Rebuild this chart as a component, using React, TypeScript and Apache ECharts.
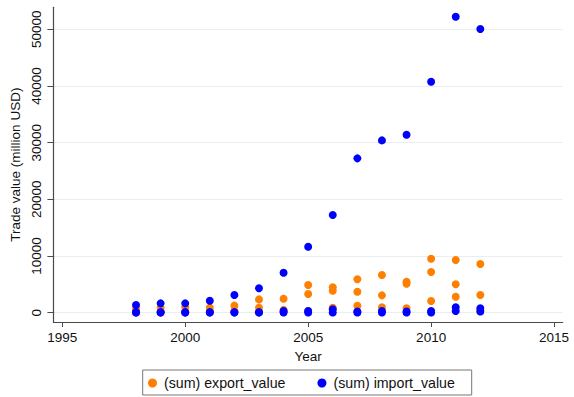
import React, { useEffect, useRef } from "react";
import * as echarts from "echarts";

const years = [1998, 1999, 2000, 2001, 2002, 2003, 2004, 2005, 2006, 2007, 2008, 2009, 2010, 2011, 2012];
const exportA = [800, 900, 1000, 900, 1250, 2350, 2450, 4900, 4480, 5890, 6650, 5470, 9530, 9300, 8590];
const exportB = [300, 200, 200, 300, 300, 900, 500, 3300, 3880, 3700, 3060, 5120, 7180, 5010, 3120];
const exportC = [50, 50, 50, 100, 100, 100, 150, 300, 880, 1240, 950, 770, 2060, 2820, 400];
const importA = [1360, 1650, 1650, 2120, 3120, 4300, 7060, 11640, 17230, 27230, 30400, 31400, 40750, 52200, 50050];
const importB = [100, 100, 100, 100, 100, 100, 300, 300, 600, 200, 300, 200, 300, 950, 770];
const importC = [20, 20, 20, 20, 20, 20, 50, 50, 50, 50, 50, 50, 50, 300, 200];
const xTicks = [1995, 2000, 2005, 2010, 2015];
const yTicks = [0, 10000, 20000, 30000, 40000, 50000];
const seriesNames = ["(sum) export_value", "(sum) import_value"];

const FONT = "Liberation Sans, Arial, Helvetica, sans-serif";

function pts(...groups: number[][]) {
  const out: number[][] = [];
  groups.forEach((g) => g.forEach((v, i) => out.push([years[i], v])));
  return out;
}

export default function App() {
  const ref = useRef<HTMLDivElement>(null);
  useEffect(() => {
    if (!ref.current) return;
    const chart = echarts.init(ref.current, null, { renderer: "svg" });
    const axisColor = "#4a4a4a";
    const textStyle = { color: "#111", fontFamily: FONT, fontSize: 13.5 };
    chart.setOption({
      animation: false,
      backgroundColor: "#fff",
      grid: { left: 51, right: 11.3, top: 7.3, bottom: 75, containLabel: false },
      xAxis: {
        type: "value",
        min: 1994.64,
        max: 2015.35,
        name: "Year",
        nameLocation: "middle",
        nameGap: 24.5,
        nameTextStyle: textStyle,
        axisLine: { onZero: false, lineStyle: { color: axisColor, width: 1.2 } },
        axisTick: { show: true, length: 5, customValues: xTicks, lineStyle: { color: axisColor } },
        axisLabel: { ...textStyle, margin: 8.5, customValues: xTicks, formatter: (v: number) => String(v) },
        splitLine: { show: false },
      },
      yAxis: {
        type: "value",
        min: -1641,
        max: 53882,
        name: "Trade value (million USD)",
        nameLocation: "middle",
        nameGap: 26,
        nameTextStyle: textStyle,
        axisLine: { show: true, lineStyle: { color: axisColor, width: 1.2 } },
        axisTick: { show: true, length: 6, customValues: yTicks, lineStyle: { color: axisColor } },
        axisLabel: { ...textStyle, rotate: 90, margin: 9.5, customValues: yTicks, formatter: (v: number) => String(v) },
        splitLine: { show: true, lineStyle: { color: "#e8eff1", width: 1 } },
      },
      legend: {
        left: 148,
        top: 376,
        padding: 0,
        itemWidth: 9,
        itemHeight: 9,
        itemGap: 32,
        icon: "circle",
        textStyle: { ...textStyle, fontSize: 14.2, padding: [0, 0, 0, 2] },
        data: seriesNames,
      },
      graphic: [
        {
          type: "rect",
          shape: { x: 142.7, y: 370, width: 329, height: 25 },
          style: { fill: "none", stroke: "#777", lineWidth: 1 },
          silent: true,
        },
      ],
      series: [
        {
          name: seriesNames[0],
          type: "scatter",
          symbol: "circle",
          symbolSize: 8,
          itemStyle: { color: "#ff7f00", opacity: 1 },
          data: pts(exportA, exportB, exportC),
        },
        {
          name: seriesNames[1],
          type: "scatter",
          symbol: "circle",
          symbolSize: 8,
          itemStyle: { color: "#0000ff", opacity: 1 },
          data: pts(importA, importB, importC),
        },
      ],
    });
    return () => chart.dispose();
  }, []);
  return <div ref={ref} style={{ width: 574, height: 397, position: "fixed", left: 0, top: 0 }} />;
}
